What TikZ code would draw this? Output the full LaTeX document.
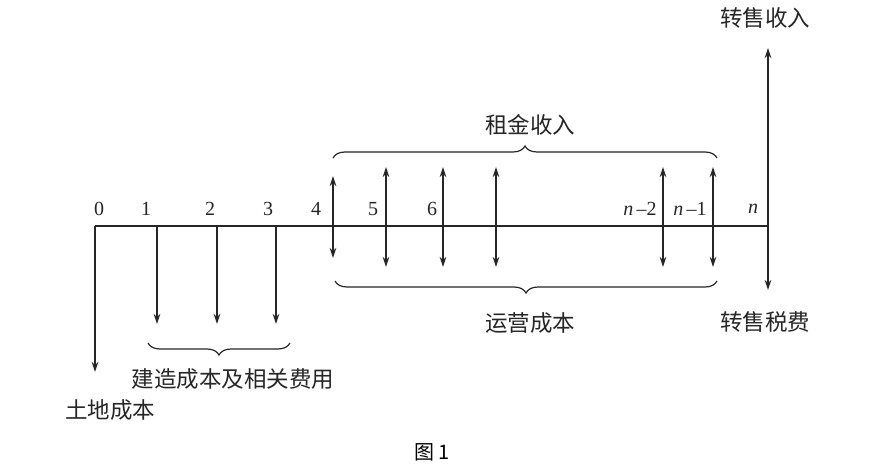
\documentclass[tikz,border=0pt]{standalone}
\usepackage{fontspec}
\setmainfont{Liberation Serif}
\newfontfamily\cjk{Noto Sans CJK SC}
\usetikzlibrary{arrows.meta,decorations.pathreplacing}
\begin{document}
\begin{tikzpicture}[x=1pt,y=-1pt,
  ln/.style={line width=1.2pt,draw=black!85},
  arr/.style={ln,-{Stealth[length=10pt,width=6.5pt]}},
  darr/.style={ln,{Stealth[length=10pt,width=6.5pt]}-{Stealth[length=10pt,width=6.5pt]}},
  brc/.style={ln,decorate,decoration={brace,amplitude=12pt}},
  brcm/.style={ln,decorate,decoration={brace,amplitude=12pt,mirror}},
  cj/.style={font=\cjk\fontsize{22.5}{22.5}\selectfont,inner sep=0pt,text=black!85},
  num/.style={font=\fontsize{20}{20}\selectfont,inner sep=0pt,text=black!85}]
\useasboundingbox[fill=white] (0,0) rectangle (891,470);
% axis
\coordinate (t0) at (95,226);
\coordinate (tn) at (768,226);
\draw[ln] (t0) -- (tn);
% tick coordinates
\coordinate (t1) at (157,226);
\coordinate (t2) at (217,226);
\coordinate (t3) at (276,226);
% land cost
\coordinate (d0) at (95,372);
\draw[arr] (t0) -- (d0);
% construction arrows
\coordinate (d1) at (157,324);
\coordinate (d2) at (217,324);
\coordinate (d3) at (276,324);
\draw[arr] (t1) -- (d1);
\draw[arr] (t2) -- (d2);
\draw[arr] (t3) -- (d3);
% operating double arrows
\coordinate (u4) at (333,176); \coordinate (b4) at (333,258);
\coordinate (u5) at (386,167); \coordinate (b5) at (386,267);
\coordinate (u6) at (443,167); \coordinate (b6) at (443,267);
\coordinate (u7) at (496,167); \coordinate (b7) at (496,267);
\coordinate (u8) at (663,167); \coordinate (b8) at (663,267);
\coordinate (u9) at (713,167); \coordinate (b9) at (713,267);
\foreach \i in {4,...,9} {\draw[darr] (b\i) -- (u\i);}
% resale
\coordinate (un) at (768,48);
\coordinate (bn) at (768,290);
\draw[arr] (tn) -- (un);
\draw[arr] (tn) -- (bn);
% tick labels
\node[num] (l0) at (99,209) {0};
\node[num] (l1) at (146,209) {1};
\node[num] (l2) at (210,209) {2};
\node[num] (l3) at (268,209) {3};
\node[num] (l4) at (316,209) {4};
\node[num] (l5) at (373,209) {5};
\node[num] (l6) at (432,209) {6};
\node[num] (l8) at (640,209) {\textit{n}\,\textendash2};
\node[num] (l9) at (690,209) {\textit{n}\,\textendash1};
\node[num] (ln) at (753,209) {\textit{n}};
% braces
\coordinate (bt1) at (333,158); \coordinate (bt2) at (717,158);
\draw[brc] (bt1) -- (bt2);
\coordinate (bb1) at (335,281); \coordinate (bb2) at (717,281);
\draw[brcm] (bb1) -- (bb2);
\coordinate (bc1) at (148,343); \coordinate (bc2) at (290,343);
\draw[brcm] (bc1) -- (bc2);
% labels
\node[cj] (rent) at (530,125) {租金收入};
\node[cj] (opc) at (530,323) {运营成本};
\node[cj] (cons) at (233,379) {建造成本及相关费用};
\node[cj] (land) at (110,410) {土地成本};
\node[cj] (sale) at (765,18) {转售收入};
\node[cj] (tax) at (765,322) {转售税费};
\node[font=\cjk\fontsize{20}{20}\selectfont,inner sep=0pt] (fig) at (432,452) {图\,1};
\end{tikzpicture}
\end{document}
